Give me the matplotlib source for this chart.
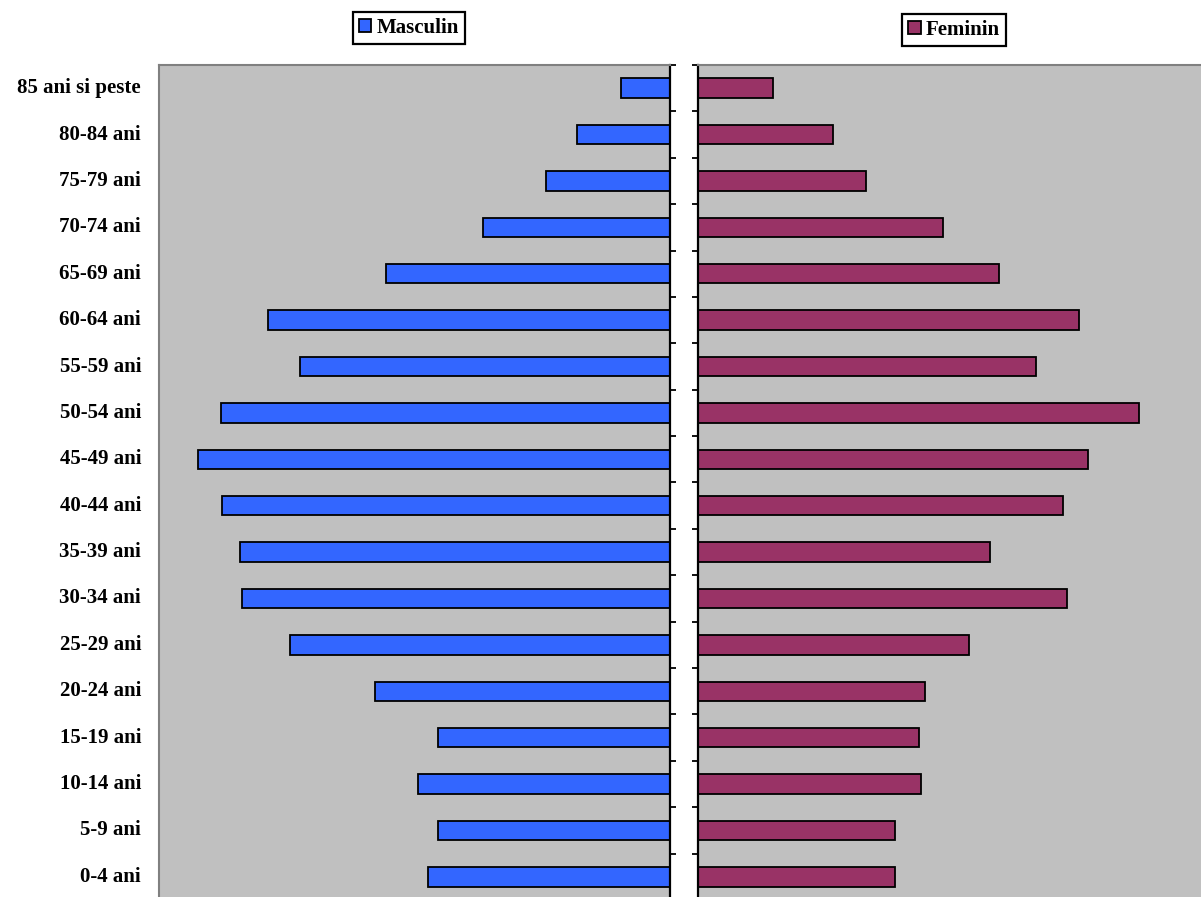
import numpy as np
import matplotlib.pyplot as plt
from matplotlib.patches import Patch

groups = ["0-4 ani", "5-9 ani", "10-14 ani", "15-19 ani", "20-24 ani", "25-29 ani",
          "30-34 ani", "35-39 ani", "40-44 ani", "45-49 ani", "50-54 ani", "55-59 ani",
          "60-64 ani", "65-69 ani", "70-74 ani", "75-79 ani", "80-84 ani", "85 ani si peste"]
masculin = [242, 232, 252, 232, 295, 380, 428, 430, 448, 472, 449, 370, 402, 284, 187, 124, 93, 49]
feminin = [197, 197, 223, 221, 227, 271, 369, 292, 365, 390, 441, 338, 381, 301, 245, 168, 135, 75]

blue = "#3366FF"
maroon = "#993366"
grey = "#C0C0C0"

plt.rcParams['font.family'] = ['Liberation Serif', 'DejaVu Serif']
plt.rcParams['font.weight'] = 'bold'

W, H = 1201, 897
fig = plt.figure(figsize=(W / 100, H / 100), dpi=100)

top = 65
bottom = 900
axL = fig.add_axes([159 / W, 1 - bottom / H, (670 - 159) / W, (bottom - top) / H])
axR = fig.add_axes([698 / W, 1 - bottom / H, (W - 698) / W, (bottom - top) / H])

y = np.arange(len(groups))
axL.barh(y, masculin, height=0.42, color=blue, edgecolor='black', linewidth=1.3)
axR.barh(y, feminin, height=0.42, color=maroon, edgecolor='black', linewidth=1.3)

axL.set_xlim(511, 0)
axR.set_xlim(0, W - 698)
for ax in (axL, axR):
    ax.set_facecolor(grey)
    ax.set_ylim(-0.5, len(groups) - 0.5)
    ax.set_xticks([])
    ax.set_yticks(np.arange(len(groups) + 1) - 0.5)
    ax.set_yticklabels([])
    ax.spines['bottom'].set_visible(False)
    ax.spines['top'].set_color('#808080')
    ax.spines['top'].set_linewidth(1.5)

axL.spines['left'].set_color('#808080')
axL.spines['left'].set_linewidth(1.5)
axL.spines['right'].set_color('black')
axL.spines['right'].set_linewidth(1.6)
axL.yaxis.tick_right()
axL.tick_params(axis='y', direction='out', length=4.5, width=1.3, color='black')

axR.spines['right'].set_visible(False)
axR.spines['left'].set_color('black')
axR.spines['left'].set_linewidth(1.6)
axR.tick_params(axis='y', direction='out', length=4.5, width=1.3, color='black')

# category labels on the left of the male panel
for i, g in enumerate(groups):
    axL.text(-0.035, i, g, transform=axL.get_yaxis_transform(), ha='right', va='center',
             fontsize=15, fontweight='bold')

legL = fig.legend(handles=[Patch(facecolor=blue, edgecolor='black', linewidth=1.3)],
                  labels=["Masculin"], loc='center', bbox_to_anchor=(409 / W, 1 - 28 / H),
                  fancybox=False, edgecolor='black', framealpha=1, handlelength=0.6,
                  handleheight=0.6, handletextpad=0.25, borderpad=0.3,
                  prop={'size': 15, 'weight': 'bold'})
legL.get_frame().set_linewidth(1.6)
legR = fig.legend(handles=[Patch(facecolor=maroon, edgecolor='black', linewidth=1.3)],
                  labels=["Feminin"], loc='center', bbox_to_anchor=(954 / W, 1 - 30 / H),
                  fancybox=False, edgecolor='black', framealpha=1, handlelength=0.6,
                  handleheight=0.6, handletextpad=0.25, borderpad=0.3,
                  prop={'size': 15, 'weight': 'bold'})
legR.get_frame().set_linewidth(1.6)

fig.savefig('out.png', dpi=100)
